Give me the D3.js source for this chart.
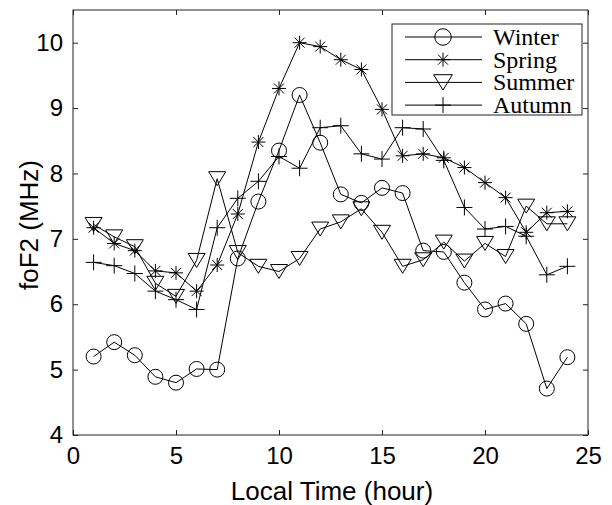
<html lang="en"><head>
<meta http-equiv="Content-Type" content="text/html; charset=UTF-8">
<title>foF2</title>
<script type="text/javascript" src="https://cdn.jsdelivr.net/npm/d3@7"></script>
<style type="text/css">
body { margin: 0; background: #fff; }
</style>
</head>
<body>
<div id="chart"></div>
<script type="text/javascript">

var hours = d3.range(1, 25);
var winter = [5.2, 5.42, 5.22, 4.89, 4.8, 5.01, 5.0, 6.7, 7.57, 8.35, 9.2, 8.47, 7.68, 7.55, 7.78, 7.7,
  6.82, 6.8, 6.33, 5.92, 6.01, 5.7, 4.71, 5.19];
var spring = [7.17, 6.93, 6.82, 6.51, 6.48, 6.2, 6.6, 7.38, 8.48, 9.3, 10.0, 9.94, 9.74, 9.59, 8.98, 8.27,
  8.3, 8.24, 8.09, 7.86, 7.63, 7.1, 7.4, 7.42];
var summer = [7.22, 7.03, 6.88, 6.32, 6.12, 6.67, 7.92, 6.79, 6.58, 6.5, 6.7, 7.15, 7.26, 7.46, 7.1, 6.58,
  6.68, 6.95, 6.66, 6.93, 6.73, 7.5, 7.23, 7.23];
var autumn = [6.64, 6.59, 6.47, 6.2, 6.07, 5.92, 7.17, 7.62, 7.88, 8.26, 8.08, 8.7, 8.73, 8.3, 8.22, 8.7,
  8.68, 8.2, 7.48, 7.15, 7.19, 7.04, 6.45, 6.58];
var seriesNames = ["Winter", "Spring", "Summer", "Autumn"];
var seriesMarkers = ["circle", "star", "tri", "plus"];
var xTicks = [0, 5, 10, 15, 20, 25];
var yTicks = [4, 5, 6, 7, 8, 9, 10];

var allSeries = [winter, spring, summer, autumn];

var width = 612;
var height = 505;
var plotLeft = 73, plotRight = 588, plotTop = 10, plotBottom = 435;

var svg = d3.select("#chart").append("svg")
        .attr("width", width)
        .attr("height", height);

var x = d3.scaleLinear().domain([0, 25]).range([plotLeft, plotRight]);
var y = d3.scaleLinear().domain([4, 10.5]).range([plotBottom, plotTop]);

// draws one marker shape at (cx, cy)
function drawMarker(g, kind, cx, cy, big) {
  var f = big ? 1.1 : 1;
  if (kind == "circle") {
    g.append("circle").attr("cx", cx).attr("cy", cy).attr("r", 7.5 * f)
      .attr("fill", "none").attr("stroke", "#000").attr("stroke-width", 1);
  } else if (kind == "tri") {
    var w = 8.5 * f, h = 7 * f;
    g.append("path")
      .attr("d", "M" + (cx - w) + "," + (cy - h) + "L" + (cx + w) + "," + (cy - h) + "L" + cx + "," + (cy + h) + "Z")
      .attr("fill", "none").attr("stroke", "#000").attr("stroke-width", 1);
  } else if (kind == "plus") {
    var s = 8;
    g.append("path")
      .attr("d", "M" + (cx - s) + "," + cy + "H" + (cx + s) + "M" + cx + "," + (cy - s) + "V" + (cy + s))
      .attr("stroke", "#000").attr("stroke-width", 1);
  } else if (kind == "star") {
    var a = 7, b = 5;
    g.append("path")
      .attr("d", "M" + (cx - a) + "," + cy + "H" + (cx + a) + "M" + cx + "," + (cy - a) + "V" + (cy + a) +
        "M" + (cx - b) + "," + (cy - b) + "L" + (cx + b) + "," + (cy + b) +
        "M" + (cx - b) + "," + (cy + b) + "L" + (cx + b) + "," + (cy - b))
      .attr("stroke", "#000").attr("stroke-width", 1);
  }
}

// axes box with inward ticks on every side
svg.append("rect")
  .attr("x", plotLeft).attr("y", plotTop)
  .attr("width", plotRight - plotLeft).attr("height", plotBottom - plotTop)
  .attr("fill", "none").attr("stroke", "#222").attr("stroke-width", 1);

var axisFont = "'Liberation Sans', Arial, sans-serif";

svg.append("g").attr("transform", "translate(0," + plotBottom + ")")
  .call(d3.axisBottom(x).tickValues(xTicks).tickSizeInner(-5).tickSizeOuter(0).tickPadding(12)
    .tickFormat(d3.format("d")))
  .call(function (g) { g.select(".domain").remove(); });
svg.append("g").attr("transform", "translate(0," + plotTop + ")")
  .call(d3.axisTop(x).tickValues(xTicks).tickSizeInner(-5).tickSizeOuter(0).tickFormat(""))
  .call(function (g) { g.select(".domain").remove(); });
svg.append("g").attr("transform", "translate(" + plotLeft + ",0)")
  .call(d3.axisLeft(y).tickValues(yTicks).tickSizeInner(-5).tickSizeOuter(0).tickPadding(10)
    .tickFormat(d3.format("d")))
  .call(function (g) { g.select(".domain").remove(); });
svg.append("g").attr("transform", "translate(" + plotRight + ",0)")
  .call(d3.axisRight(y).tickValues(yTicks).tickSizeInner(-5).tickSizeOuter(0).tickFormat(""))
  .call(function (g) { g.select(".domain").remove(); });

svg.selectAll(".tick line").attr("stroke", "#222");
svg.selectAll(".tick text")
  .attr("font-family", axisFont)
  .attr("font-size", 24)
  .attr("fill", "#000");

svg.append("text")
  .attr("x", 332).attr("y", 500)
  .attr("text-anchor", "middle")
  .attr("font-family", axisFont).attr("font-size", 26)
  .text("Local Time (hour)");

svg.append("text")
  .attr("transform", "translate(38,225) rotate(-90)")
  .attr("text-anchor", "middle")
  .attr("font-family", axisFont).attr("font-size", 26)
  .text("foF2 (MHz)");

// series lines and markers
var line = d3.line()
  .x(function (d, i) { return x(hours[i]); })
  .y(function (d) { return y(d); });

for (var s = 0; s < allSeries.length; s++) {
  var g = svg.append("g").attr("class", "series_" + seriesNames[s]);
  g.append("path")
    .attr("d", line(allSeries[s]))
    .attr("fill", "none").attr("stroke", "#000").attr("stroke-width", 1);
  for (var k = 0; k < allSeries[s].length; k++) {
    drawMarker(g, seriesMarkers[s], x(hours[k]), y(allSeries[s][k]), false);
  }
}

// legend
var lg = svg.append("g").attr("class", "legend");
lg.append("rect")
  .attr("x", 392).attr("y", 24).attr("width", 190).attr("height", 91)
  .attr("fill", "#fff").attr("stroke", "#222").attr("stroke-width", 1);
for (var j = 0; j < seriesNames.length; j++) {
  var ly = 37 + j * 22.7;
  lg.append("line").attr("x1", 405).attr("x2", 482).attr("y1", ly).attr("y2", ly)
    .attr("stroke", "#000").attr("stroke-width", 1);
  drawMarker(lg, seriesMarkers[j], 443, ly, true);
  lg.append("text")
    .attr("x", 493).attr("y", ly + 8)
    .attr("font-family", "'Liberation Serif', 'Times New Roman', serif")
    .attr("font-size", 24)
    .text(seriesNames[j]);
}

</script>
</body></html>
